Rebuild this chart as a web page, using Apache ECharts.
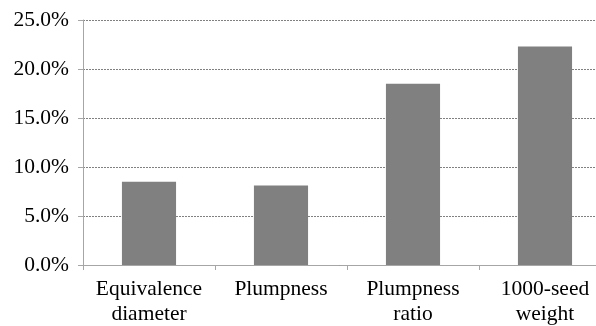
<!DOCTYPE html>
<html><head><meta charset="utf-8">
<script src="https://cdn.jsdelivr.net/npm/echarts@6/dist/echarts.min.js"></script>
<style>html,body{margin:0;padding:0;background:#fff}#c{width:596px;height:326px}</style>
</head><body><div id="c"></div>
<script>
var categories = ['Equivalence\ndiameter', 'Plumpness', 'Plumpness\nratio', '1000-seed\nweight'];
var values = [8.5, 8.1, 18.5, 22.3];
var yMin = 0, yMax = 25, yStep = 5;
var serif = "'Liberation Serif', 'Times New Roman', 'DejaVu Serif', serif";

var chart = echarts.init(document.getElementById('c'), null, {renderer: 'canvas'});
chart.setOption({
  animation: false,
  grid: {left: 83, top: 20, width: 528, height: 245, containLabel: false, outerBoundsMode: 'none'},
  xAxis: {
    type: 'category', data: categories,
    axisLine: {lineStyle: {color: '#a6a6a6', width: 1}},
    axisTick: {show: true, length: 5, inside: false, lineStyle: {color: '#a6a6a6'}},
    axisLabel: {fontFamily: serif, fontSize: 21.5, color: '#000', margin: 12, lineHeight: 25, interval: 0}
  },
  yAxis: {
    type: 'value', min: yMin, max: yMax, interval: yStep,
    axisLine: {show: true, lineStyle: {color: '#a6a6a6', width: 1}},
    axisTick: {show: true, length: 5, lineStyle: {color: '#a6a6a6'}},
    splitLine: {show: true, lineStyle: {color: '#808080', type: [2, 1], width: 1}},
    axisLabel: {fontFamily: serif, fontSize: 21.5, color: '#000', margin: 14,
      formatter: function(v){ return v.toFixed(1) + '%'; }}
  },
  series: [{
    type: 'bar', data: values, barWidth: '41%',
    itemStyle: {color: '#808080'}
  }]
});
</script></body></html>
